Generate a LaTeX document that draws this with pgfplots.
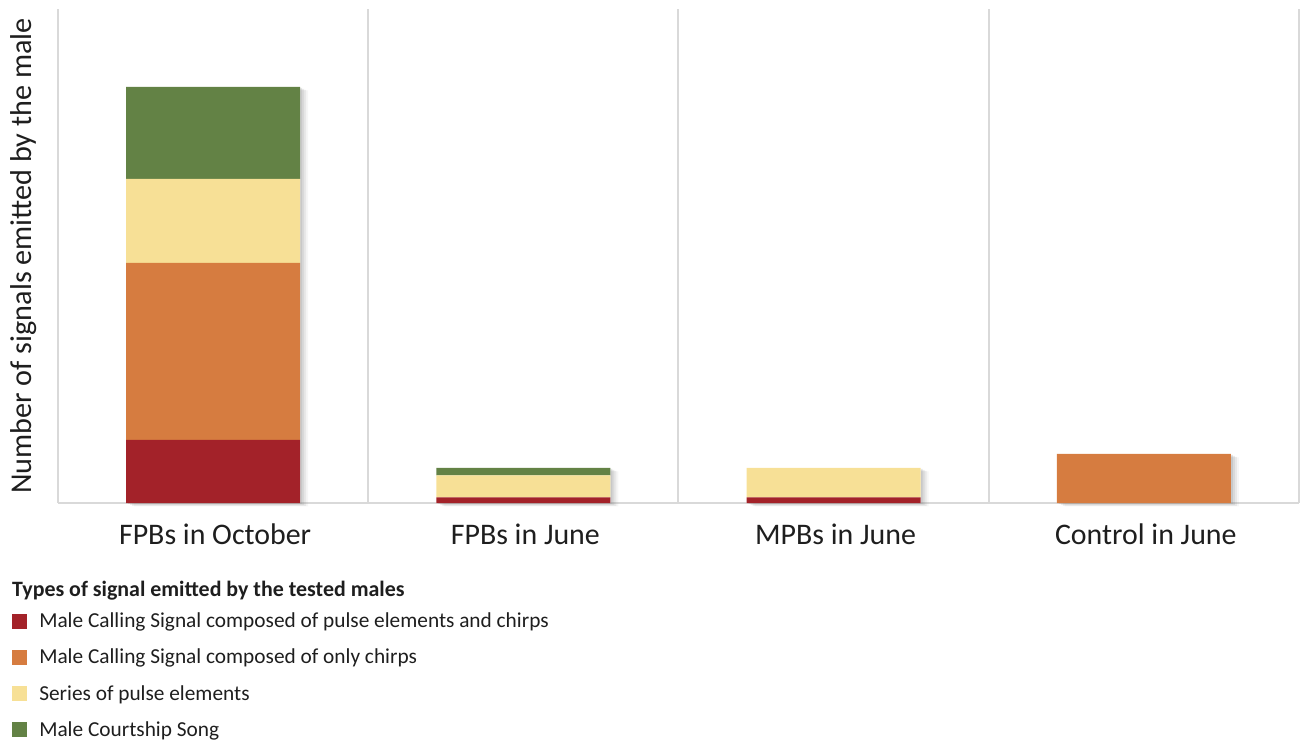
\documentclass[border=0pt]{standalone}
\usepackage{fontspec}
\setmainfont{Carlito}
\usepackage{pgfplots}
\pgfplotsset{compat=1.18}
\usetikzlibrary{shadows}
\definecolor{cRed}{HTML}{A32229}
\definecolor{cOrange}{HTML}{D67C40}
\definecolor{cYellow}{HTML}{F7E096}
\definecolor{cGreen}{HTML}{638245}
\definecolor{gridgray}{HTML}{D9D9D9}
\definecolor{txt}{HTML}{1E1E1E}
\begin{document}
\begin{tikzpicture}
\useasboundingbox (0,0) rectangle (1301bp,740bp);
\pgfplotsset{common/.style={
  at={(58bp,237bp)}, anchor=south west,
  width=1241bp, height=494bp, scale only axis,
  xmin=-0.5, xmax=3.5, ymin=0, ymax=494,
  ytick=\empty,
  clip=false,
}}
% background axis: frame lines, grid and bar shadows
\begin{axis}[common,
  axis x line*=bottom, axis y line=none,
  axis line style={-, draw=gridgray, line width=2bp},
  xtick={-0.5,0.5,1.5,2.5,3.5}, xticklabels={},
  major tick length=0pt,
  xmajorgrids, major grid style={gridgray, line width=2bp},
  ybar, bar width=174bp,
]
\addplot[fill=white, draw=none,
  drop shadow={shadow xshift=2bp, shadow yshift=-1bp, opacity=0.18},
  drop shadow={shadow xshift=4bp, shadow yshift=-2bp, opacity=0.15},
  drop shadow={shadow xshift=6bp, shadow yshift=-3bp, opacity=0.12},
  drop shadow={shadow xshift=8bp, shadow yshift=-3.5bp, opacity=0.07}]
  coordinates {(0,416) (1,35) (2,35) (3,49)};
\end{axis}
% foreground axis: stacked bars, labels, legend
\begin{axis}[common,
  axis line style={draw=none},
  major tick length=0pt,
  ybar stacked, bar width=174bp,
  xtick={0,1,2,3},
  xticklabels={FPBs in October, FPBs in June, MPBs in June, Control in June},
  xticklabel style={font=\fontsize{30}{34}\selectfont, text=txt, yshift=-17bp, xshift=2bp},
  every axis y label/.style={at={(axis description cs:-0.0274,0.5)}, rotate=90, anchor=center},
  ylabel={Number of signals emitted by the male},
  ylabel style={font=\fontsize{30.3}{34}\selectfont, text=txt},
  legend cell align=left,
  legend style={at={(axis description cs:-0.037,-0.222)}, anchor=north west,
    draw=none, fill=none, inner sep=0pt,
    font=\fontsize{21.4}{25}\selectfont, text=txt,
    row sep=20bp,
    /tikz/every odd column/.append style={column sep=12bp},
    nodes={inner sep=0pt}},
  legend image code/.code={\fill[#1] (0bp,-7.5bp) rectangle (15bp,7.5bp);},
]
\addplot[fill=cRed, draw=none] coordinates {(0,63) (1,5.5) (2,5.5) (3,0)};
\addlegendentry{Male Calling Signal composed of pulse elements and chirps}
\addplot[fill=cOrange, draw=none] coordinates {(0,177) (1,0) (2,0) (3,49)};
\addlegendentry{Male Calling Signal composed of only chirps}
\addplot[fill=cYellow, draw=none] coordinates {(0,84) (1,22) (2,29.5) (3,0)};
\addlegendentry{Series of pulse elements}
\addplot[fill=cGreen, draw=none] coordinates {(0,92) (1,7.5) (2,0) (3,0)};
\addlegendentry{Male Courtship Song}
\end{axis}
\node[anchor=west, font=\bfseries\fontsize{22}{26}\selectfont, text=txt, inner sep=0pt]
  at (12bp,149bp) {Types of signal emitted by the tested males};
\end{tikzpicture}
\end{document}
